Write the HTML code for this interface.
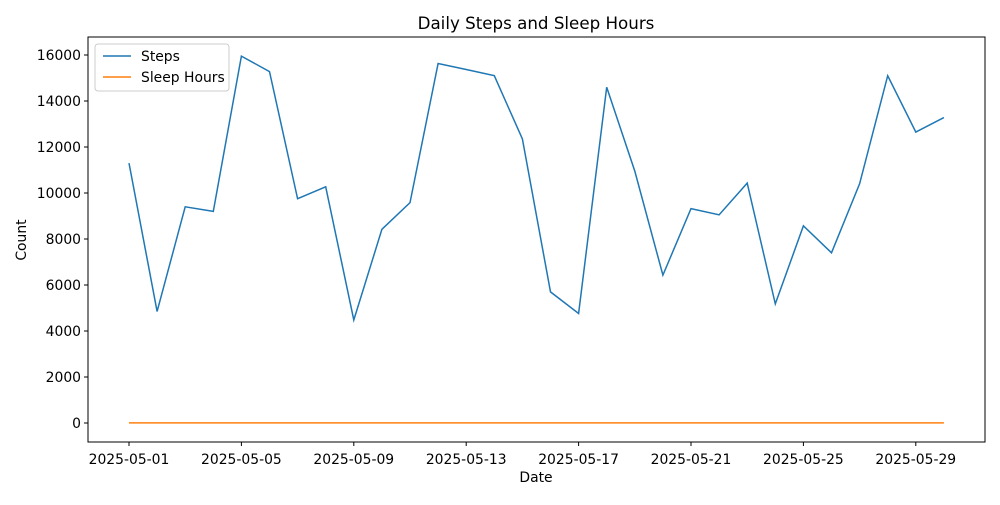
<!DOCTYPE html>
<html><head><meta charset="utf-8"><style>
body{margin:0;background:#fff;font-family:"Liberation Sans","DejaVu Sans",sans-serif}
svg text{font-family:"DejaVu Sans","Liberation Sans",sans-serif}
</style></head><body>
<svg id="chart" width="1000" height="500" xmlns="http://www.w3.org/2000/svg"></svg>
<script>
const dates=[];for(let d=1;d<=30;d++)dates.push('2025-05-'+String(d).padStart(2,'0'));
const steps=[11300,4850,9400,9200,15950,15280,9750,10270,4480,8420,9580,15630,15370,15100,12350,5700,4760,14600,10950,6430,9320,9050,10430,5180,8570,7400,10400,15100,12650,13280];
const sleep=[7.2,6.8,7.5,6.9,7.1,8.0,6.5,7.3,7.0,6.7,7.4,7.8,6.6,7.2,7.0,6.9,7.5,7.1,6.8,7.3,7.6,6.9,7.0,7.2,6.8,7.4,7.1,6.7,7.3,7.0];
const yTicks=[0,2000,4000,6000,8000,10000,12000,14000,16000];
const xTickIdx=[0,4,8,12,16,20,24,28];
const L=88,R=985,T=37,B=442;
const x=i=>129+i*28.1, y=v=>423-v*0.023;
const s=document.getElementById('chart');const NS='http://www.w3.org/2000/svg';
function mk(t,a,txt){const e=document.createElementNS(NS,t);for(const k in a)e.setAttribute(k,a[k]);if(txt!==undefined)e.textContent=txt;s.appendChild(e);return e;}
let e=mk('rect',{x:L,y:T,width:R-L,height:B-T,fill:'none',stroke:'#000','stroke-width':1});


yTicks.forEach(v=>{mk('line',{x1:L-4,x2:L,y1:y(v),y2:y(v),stroke:'#000'});
e=mk('text',{x:L-7,y:y(v)+5,'text-anchor':'end','font-size':13.9},String(v));

});
xTickIdx.forEach(i=>{mk('line',{x1:x(i),x2:x(i),y1:B,y2:B+4,stroke:'#000'});
e=mk('text',{x:x(i),y:B+22,'text-anchor':'middle','font-size':13.9},dates[i]);

});
e=mk('polyline',{points:steps.map((v,i)=>x(i)+','+y(v)).join(' '),fill:'none',stroke:'#1f77b4','stroke-width':1.5});


e=mk('polyline',{points:sleep.map((v,i)=>x(i)+','+y(v)).join(' '),fill:'none',stroke:'#ff7f0e','stroke-width':1.5});


e=mk('text',{x:536,y:29,'text-anchor':'middle','font-size':16.7},'Daily Steps and Sleep Hours');


e=mk('text',{x:536,y:482,'text-anchor':'middle','font-size':13.9},'Date');


e=mk('text',{x:26,y:240,'text-anchor':'middle','font-size':13.9,transform:'rotate(-90 26 240)'},'Count');


e=mk('rect',{x:95,y:44,width:134,height:47,fill:'#fff',stroke:'#ccc',rx:3});


mk('line',{x1:103,x2:131,y1:56,y2:56,stroke:'#1f77b4','stroke-width':1.5});
e=mk('text',{x:141,y:61,'font-size':13.9},'Steps');


mk('line',{x1:103,x2:131,y1:77,y2:77,stroke:'#ff7f0e','stroke-width':1.5});
e=mk('text',{x:141,y:82,'font-size':13.9},'Sleep Hours');


</script>
</body></html>
